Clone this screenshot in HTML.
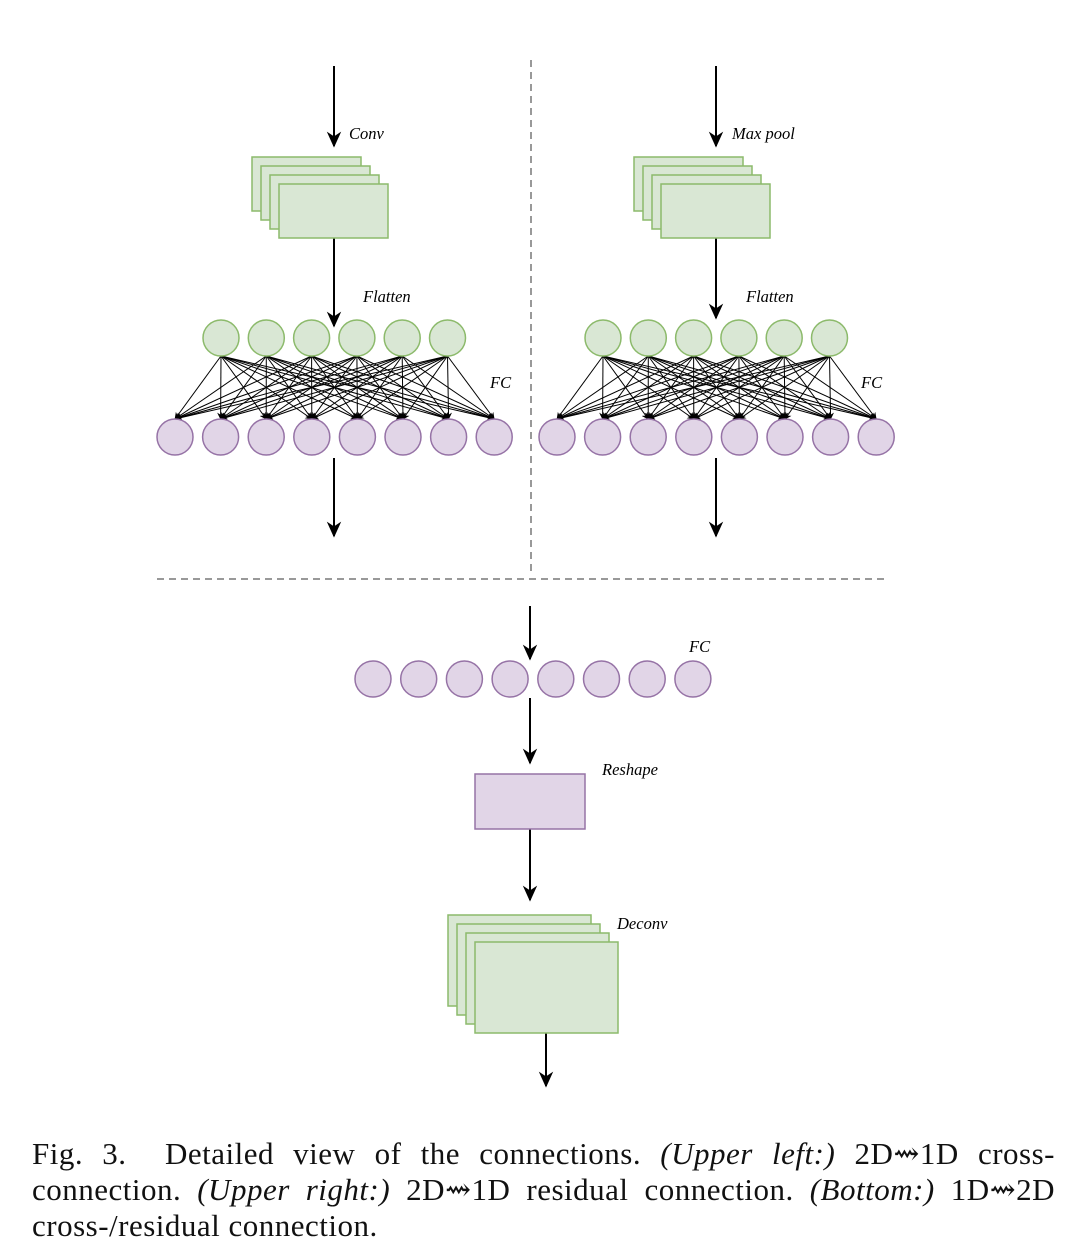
<!DOCTYPE html>
<html><head><meta charset="utf-8"><style>
html,body{margin:0;padding:0;background:#fff;}
svg{display:block;}
.lab{font-family:"Liberation Serif",serif;font-style:italic;font-size:16.5px;fill:#000;}
.cap{position:absolute;left:32px;width:1023px;font-family:"Liberation Serif","DejaVu Serif",serif;font-size:31px;letter-spacing:0.5px;color:#111;line-height:36px;text-align:justify;text-align-last:justify;}
.l3{text-align-last:left;}
</style></head><body>
<svg id="s" width="1090" height="1258" viewBox="0 0 1090 1258" xmlns="http://www.w3.org/2000/svg" style="position:absolute;left:0;top:0">
<defs>
<marker id="a" viewBox="0 0 10 10" refX="9" refY="5" markerWidth="7" markerHeight="7" orient="auto"><path d="M0,0 L10,5 L0,10 L3,5 z" fill="#000"/></marker>
<marker id="b" viewBox="0 0 10 10" refX="9" refY="5" markerWidth="8" markerHeight="8" orient="auto"><path d="M0,0.5 L10,5 L0,9.5 L3,5 z" fill="#000"/></marker>
</defs>
<g stroke="#999" stroke-width="2" stroke-dasharray="7,5" fill="none">
<line x1="531" y1="60" x2="531" y2="575"/>
<line x1="157" y1="579" x2="887" y2="579"/>
</g>
<g id="fc"></g>
<g stroke="#000" stroke-width="2" fill="none">
<line x1="334" y1="66" x2="334" y2="146" marker-end="url(#b)"/>
<line x1="334" y1="238" x2="334" y2="326" marker-end="url(#b)"/>
<line x1="334" y1="458" x2="334" y2="536" marker-end="url(#b)"/>
<line x1="716" y1="66" x2="716" y2="146" marker-end="url(#b)"/>
<line x1="716" y1="238" x2="716" y2="318" marker-end="url(#b)"/>
<line x1="716" y1="458" x2="716" y2="536" marker-end="url(#b)"/>
<line x1="530" y1="606" x2="530" y2="659" marker-end="url(#b)"/>
<line x1="530" y1="698" x2="530" y2="763" marker-end="url(#b)"/>
<line x1="530" y1="829" x2="530" y2="900" marker-end="url(#b)"/>
<line x1="546" y1="1033" x2="546" y2="1086" marker-end="url(#b)"/>
</g>
<g fill="#d9e7d4" stroke="#8cba6b" stroke-width="1.5">
<rect x="252" y="157" width="109" height="54"/>
<rect x="261" y="166" width="109" height="54"/>
<rect x="270" y="175" width="109" height="54"/>
<rect x="279" y="184" width="109" height="54"/>
<rect x="634" y="157" width="109" height="54"/>
<rect x="643" y="166" width="109" height="54"/>
<rect x="652" y="175" width="109" height="54"/>
<rect x="661" y="184" width="109" height="54"/>
<rect x="448" y="915" width="143" height="91"/>
<rect x="457" y="924" width="143" height="91"/>
<rect x="466" y="933" width="143" height="91"/>
<rect x="475" y="942" width="143" height="91"/>
</g>
<rect x="475" y="774" width="110" height="55" fill="#e1d5e7" stroke="#9673a6" stroke-width="1.5"/>
<g id="circ"></g>
<text class="lab" x="349" y="139">Conv</text>
<text class="lab" x="363" y="302">Flatten</text>
<text class="lab" x="490" y="388">FC</text>
<text class="lab" x="732" y="139">Max pool</text>
<text class="lab" x="746" y="302">Flatten</text>
<text class="lab" x="861" y="388">FC</text>
<text class="lab" x="689" y="652">FC</text>
<text class="lab" x="602" y="775">Reshape</text>
<text class="lab" x="617" y="929">Deconv</text>
</svg>
<div class="cap" style="top:1136px">Fig. 3.&nbsp; Detailed view of the connections. <i>(Upper left:)</i> 2D⇝1D cross-</div>
<div class="cap" style="top:1172px">connection. <i>(Upper right:)</i> 2D⇝1D residual connection. <i>(Bottom:)</i> 1D⇝2D</div>
<div class="cap l3" style="top:1208px">cross-/residual connection.</div>
<script>
var NS="http://www.w3.org/2000/svg";
var fc=document.getElementById("fc"),ci=document.getElementById("circ");
function c(x,y,f,s){var e=document.createElementNS(NS,"circle");e.setAttribute("cx",x);e.setAttribute("cy",y);e.setAttribute("r",18);e.setAttribute("fill",f);e.setAttribute("stroke",s);e.setAttribute("stroke-width","1.5");ci.appendChild(e);}
function l(x1,y1,x2,y2){var e=document.createElementNS(NS,"line");e.setAttribute("x1",x1);e.setAttribute("y1",y1);e.setAttribute("x2",x2);e.setAttribute("y2",y2);e.setAttribute("stroke","#000");e.setAttribute("stroke-width","1");e.setAttribute("marker-end","url(#a)");fc.appendChild(e);}
[[221,175],[603,557]].forEach(function(p){
 var g=[],q=[];for(var i=0;i<6;i++)g.push(p[0]+i*45.3);for(var j=0;j<8;j++)q.push(p[1]+j*45.6);
 g.forEach(function(x){q.forEach(function(y){l(x,356,y,419);});});
 g.forEach(function(x){c(x,338,"#d9e7d4","#8cba6b");});
 q.forEach(function(x){c(x,437,"#e1d5e7","#9673a6");});
});
for(var k=0;k<8;k++)c(373+k*45.7,679,"#e1d5e7","#9673a6");
</script>
</body></html>
